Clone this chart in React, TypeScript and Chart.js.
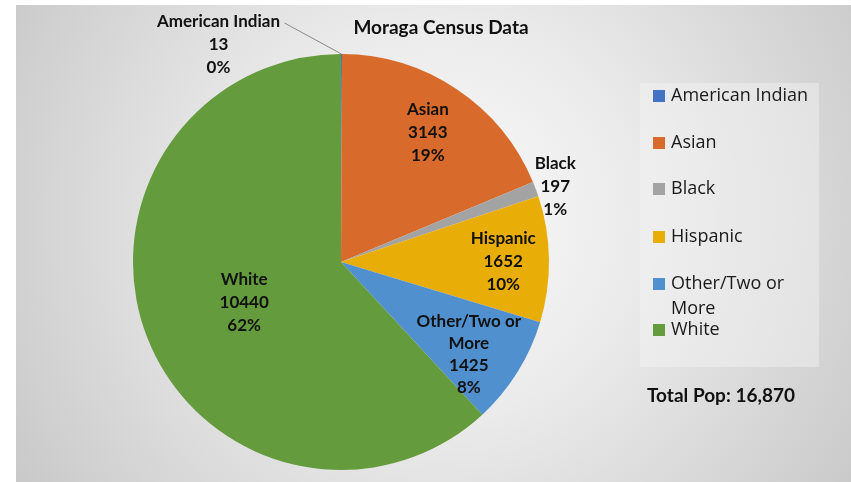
import React, { useEffect, useRef } from "react";
import { Chart, registerables } from "chart.js";

Chart.register(...registerables);

const categories = ["American Indian", "Asian", "Black", "Hispanic", "Other/Two or More", "White"];
const populations = [13, 3143, 197, 1652, 1425, 10440];
const percentLabels = ["0%", "19%", "1%", "10%", "8%", "62%"];
const sliceColors = ["#4472C4", "#D86B2B", "#A3A3A3", "#E8AD06", "#5190CE", "#649B3C"];
const titleText = "Moraga Census Data";
const totalText = "Total Pop: 16,870";

const LABEL_FONT = "bold 17px Lato";
const LINE_H = 23;

const customPlugin = {
  id: "custom",
  beforeDraw(chart: any) {
    const ctx = chart.ctx;
    const W = chart.width;
    const H = chart.height;
    ctx.save();
    ctx.fillStyle = "#ffffff";
    ctx.fillRect(0, 0, W, H);
    const g = ctx.createRadialGradient(440, 220, 0, 440, 220, 560);
    g.addColorStop(0, "#fafafa");
    g.addColorStop(0.35, "#ebebeb");
    g.addColorStop(1, "#c2c2c2");
    ctx.fillStyle = g;
    ctx.fillRect(16, 5, W - 16, H - 5);
    ctx.restore();
  },
  afterDatasetsDraw(chart: any) {
    const ctx = chart.ctx;
    const meta = chart.getDatasetMeta(0);
    ctx.save();
    ctx.fillStyle = "#111111";
    ctx.textAlign = "center";
    ctx.textBaseline = "middle";
    ctx.font = LABEL_FONT;

    const radFrac = [0, 0.75, 1.1, 0.78, 0.77, 0.5];
    const offX = [0, 0, 0, 0, -8, 0];
    const offY = [0, 0, 5, 2, 8, 3];
    meta.data.forEach((arc: any, i: number) => {
      const { x, y, startAngle, endAngle, outerRadius } = arc.getProps(
        ["x", "y", "startAngle", "endAngle", "outerRadius"],
        true
      );
      const mid = (startAngle + endAngle) / 2;
      let lines: string[];
      let lh = LINE_H;
      if (i === 4) {
        lines = ["Other/Two or", "More", String(populations[i]), percentLabels[i]];
        lh = 22;
      } else lines = [categories[i], String(populations[i]), percentLabels[i]];

      if (i === 0) {
        const ex = x + Math.cos(mid) * outerRadius;
        const ey = y + Math.sin(mid) * outerRadius;
        const lx = ex - 123;
        const ly = ey - 9;
        ctx.strokeStyle = "#8a8a8a";
        ctx.lineWidth = 1;
        ctx.beginPath();
        ctx.moveTo(ex - 57, ey - 31);
        ctx.lineTo(ex, ey);
        ctx.stroke();
        lines.forEach((t, k) => ctx.fillText(t, lx, ly + (k - 1) * lh));
        return;
      }
      const r = outerRadius * radFrac[i];
      const cx = x + Math.cos(mid) * r + offX[i];
      const cy = y + Math.sin(mid) * r + offY[i];
      const n = lines.length;
      lines.forEach((t, k) => ctx.fillText(t, cx, cy + (k - (n - 1) / 2) * lh));
    });

    // title
    ctx.font = "bold 19px Lato";
    ctx.fillText(titleText, 441, 28);

    // legend
    ctx.fillStyle = "rgba(245,245,245,0.45)";
    ctx.fillRect(640, 83, 179, 284);
    ctx.font = "18px 'Open Sans'";
    ctx.textAlign = "left";
    const legendY = [96, 143, 189, 237, 284, 330];
    categories.forEach((c, i) => {
      const y = legendY[i];
      ctx.fillStyle = sliceColors[i];
      ctx.fillRect(653, y - 6, 12, 12);
      ctx.fillStyle = "#1a1a1a";
      if (i === 4) {
        ctx.fillText("Other/Two or", 671, y);
        ctx.fillText("More", 671, y + 25);
      } else {
        ctx.fillText(c, 671, y);
      }
    });

    ctx.font = "bold 19px Lato";
    ctx.fillStyle = "#111111";
    ctx.fillText(totalText, 647, 396);
    ctx.restore();
  },
};

export default function App() {
  const ref = useRef<HTMLCanvasElement | null>(null);
  useEffect(() => {
    document.body.style.margin = "0";
    if (!ref.current) return;
    const chart = new Chart(ref.current, {
      type: "pie",
      data: {
        labels: categories,
        datasets: [
          {
            data: populations,
            backgroundColor: sliceColors,
            borderWidth: 0,
          },
        ],
      },
      options: {
        responsive: false,
        animation: false,
        layout: { padding: { left: 133, right: 302, top: 54, bottom: 12 } },
        plugins: {
          legend: { display: false },
          tooltip: { enabled: false },
          title: { display: false },
        },
      },
      plugins: [customPlugin],
    });
    return () => chart.destroy();
  }, []);
  return (
    <div style={{ width: 851, height: 482 }}>
      <canvas ref={ref} width={851} height={482} />
    </div>
  );
}
